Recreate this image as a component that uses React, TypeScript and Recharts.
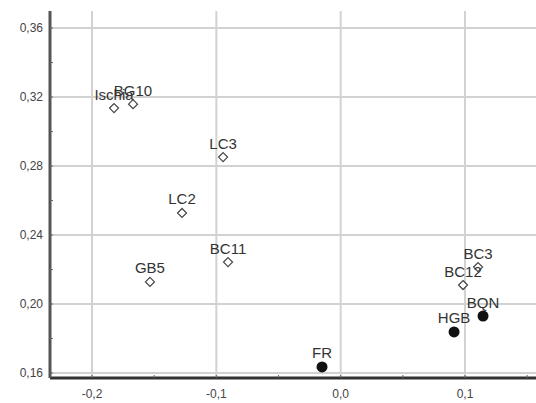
import { ScatterChart, Scatter, XAxis, YAxis, CartesianGrid, LabelList } from "recharts";

// Hollow diamonds
const openNames = ["Ischia", "BG10", "LC3", "LC2", "BC11", "GB5", "BC12", "BC3"];
const openX = [-0.1823, -0.167, -0.0946, -0.1276, -0.0906, -0.1534, 0.0984, 0.1105];
const openY = [0.3136, 0.3159, 0.2852, 0.2528, 0.2243, 0.2128, 0.211, 0.2214];

// Filled circles
const filledNames = ["BQN", "HGB", "FR"];
const filledX = [0.1145, 0.0912, -0.015];
const filledY = [0.193, 0.1838, 0.1635];

const xTicks = [-0.2, -0.15, -0.1, -0.05, 0, 0.05, 0.1, 0.15];
const xGrid = [-0.2, -0.1, 0, 0.1];
const yTicks = [0.16, 0.18, 0.2, 0.22, 0.24, 0.26, 0.28, 0.3, 0.32, 0.34, 0.36];
const yGrid = [0.16, 0.2, 0.24, 0.28, 0.32, 0.36];

const openData = openNames.map((name, i) => ({ name, x: openX[i], y: openY[i] }));
const filledData = filledNames.map((name, i) => ({ name, x: filledX[i], y: filledY[i] }));

const font = "'Liberation Sans', Arial, sans-serif";

const fmtX = (v: number) => (Math.round(v * 100) % 10 === 0 ? v.toFixed(1).replace(".", ",") : "");
const fmtY = (v: number) => (Math.round(v * 100) % 4 === 0 ? v.toFixed(2).replace(".", ",") : "");

const Diamond = (props: any) => {
  const { cx, cy } = props;
  const r = 4.5;
  return (
    <path
      d={`M${cx},${cy - r}L${cx + r},${cy}L${cx},${cy + r}L${cx - r},${cy}Z`}
      fill="#fff"
      stroke="#444"
      strokeWidth={1.2}
    />
  );
};

const Dot = (props: any) => <circle cx={props.cx} cy={props.cy} r={5.5} fill="#111" />;

export default function App() {
  const labelStyle = { fill: "#333", fontSize: 15, fontFamily: font };
  return (
    <div style={{ position: "absolute", left: 0, top: 0, background: "#fff" }}>
      <ScatterChart width={536} height={403} margin={{ top: 11, right: 0, bottom: 0, left: 0 }}>
        <CartesianGrid
          stroke="#d2d2d2"
          strokeWidth={2}
          verticalValues={xGrid}
          horizontalValues={yGrid}
        />
        <XAxis
          type="number"
          dataKey="x"
          domain={[-0.2338, 0.1571]}
          ticks={xTicks}
          tickFormatter={fmtX}
          allowDataOverflow
          height={25}
          tickSize={-3}
          tickMargin={14}
          axisLine={{ stroke: "#333", strokeWidth: 3 }}
          tickLine={{ stroke: "#666" }}
          tick={{ fill: "#444", fontSize: 12, fontFamily: font }}
        />
        <XAxis
          xAxisId="top"
          orientation="top"
          type="number"
          dataKey="x"
          domain={[-0.2338, 0.1571]}
          ticks={xTicks}
          tickFormatter={() => ""}
          allowDataOverflow
          height={0}
          tickSize={-3}
          axisLine={{ stroke: "#9a9a9a", strokeWidth: 2 }}
          tickLine={{ stroke: "#777" }}
        />
        <YAxis
          type="number"
          dataKey="y"
          domain={[0.1571, 0.3699]}
          ticks={yTicks}
          tickFormatter={fmtY}
          allowDataOverflow
          width={50}
          tickSize={-3}
          tickMargin={10}
          axisLine={{ stroke: "#555", strokeWidth: 3 }}
          tickLine={{ stroke: "#666" }}
          tick={{ fill: "#444", fontSize: 12, fontFamily: font }}
        />
        <Scatter data={openData} shape={Diamond} isAnimationActive={false}>
          <LabelList dataKey="name" position="top" offset={4} style={labelStyle} />
        </Scatter>
        <Scatter data={filledData} shape={Dot} isAnimationActive={false}>
          <LabelList dataKey="name" position="top" offset={4} style={labelStyle} />
        </Scatter>
      </ScatterChart>
    </div>
  );
}
